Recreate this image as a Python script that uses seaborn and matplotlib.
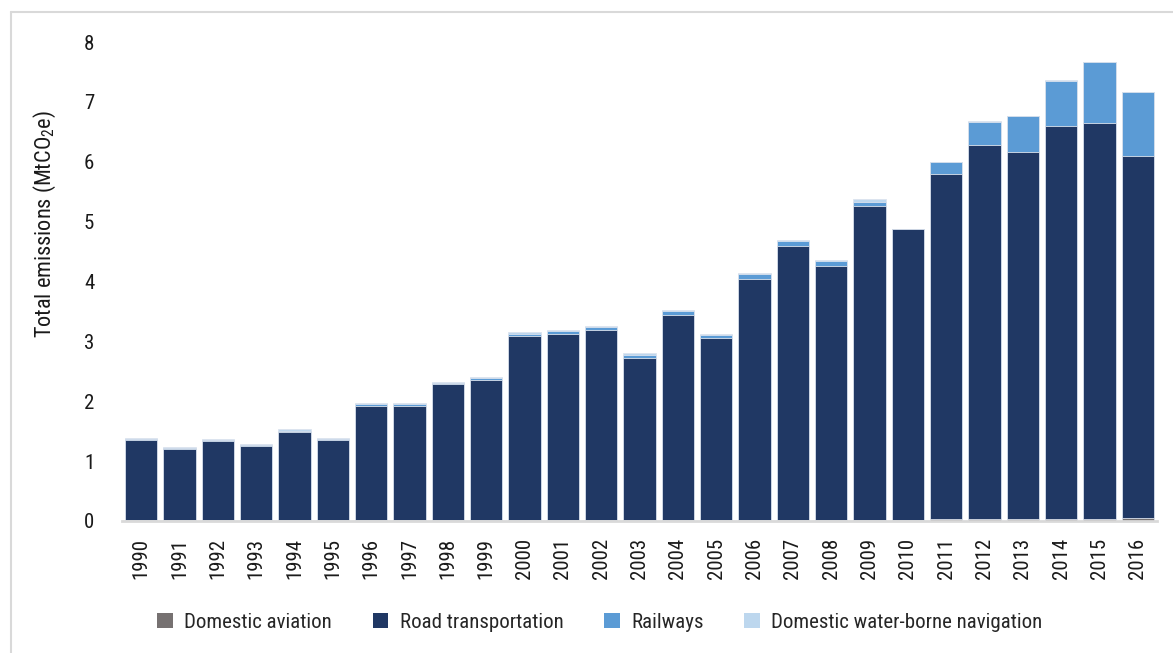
import numpy as np
import pandas as pd
import matplotlib
matplotlib.use('Agg')
import matplotlib.pyplot as plt
import seaborn as sns
from matplotlib.patches import Patch
from matplotlib.lines import Line2D

years = [str(y) for y in range(1990, 2017)]

aviation = [0.01, 0.01, 0.01, 0.01, 0.01, 0.01, 0.01, 0.01, 0.01, 0.01,
            0.01, 0.01, 0.01, 0.01, 0.01, 0.02, 0.02, 0.02, 0.02, 0.02,
            0.02, 0.03, 0.03, 0.03, 0.03, 0.03, 0.05]
road = [1.35, 1.20, 1.33, 1.25, 1.48, 1.35, 1.91, 1.91, 2.27, 2.35,
        3.08, 3.11, 3.18, 2.72, 3.43, 3.04, 4.02, 4.58, 4.24, 5.24,
        4.85, 5.77, 6.25, 6.14, 6.57, 6.62, 6.05]
railways = [0.01, 0.01, 0.01, 0.01, 0.02, 0.01, 0.03, 0.03, 0.025, 0.035,
            0.04, 0.05, 0.05, 0.05, 0.06, 0.05, 0.08, 0.08, 0.08, 0.07,
            0.0, 0.19, 0.39, 0.59, 0.75, 1.01, 1.06]
water = [0.02, 0.02, 0.015, 0.02, 0.02, 0.02, 0.015, 0.015, 0.015, 0.015,
         0.02, 0.02, 0.02, 0.02, 0.02, 0.02, 0.02, 0.02, 0.02, 0.04,
         0.0, 0.01, 0.01, 0.01, 0.01, 0.01, 0.01]

labels = ['Domestic aviation', 'Road transportation', 'Railways',
          'Domestic water-borne navigation']
colors = ['#767171', '#203864', '#5B9BD5', '#BDD7EE']

sns.set_style('white')
plt.rcParams['font.family'] = ['Liberation Sans Narrow', 'Roboto Condensed', 'DejaVu Sans']
plt.rcParams['mathtext.fontset'] = 'custom'

df = pd.DataFrame({'year': years, 'aviation': aviation, 'road': road,
                   'railways': railways, 'water': water})
layers = ['aviation', 'road', 'railways', 'water']
cum = df[layers].cumsum(axis=1)

fig = plt.figure(figsize=(11.73, 6.53), dpi=100)
ax = fig.add_axes([122 / 1173, 1 - 521 / 653, (1157 - 122) / 1173, (521 - 42) / 653])

# stacked bars: draw cumulative totals from the top layer down
for layer, col in reversed(list(zip(layers, colors))):
    sns.barplot(x=df['year'], y=cum[layer], color=col, saturation=1,
                width=0.85, edgecolor='#DCE3EE', linewidth=0.6,
                errorbar=None, ax=ax, order=years)

ax.set_ylim(0, 8)
ax.set_yticks(range(0, 9))
ax.set_xlabel('')
ax.set_ylabel(r'Total emissions (MtCO$_{\mathregular{2}}$e)', fontsize=16, color='#1a1a1a')
ax.yaxis.set_label_coords(-0.062, 0.62)
for s in ['top', 'right', 'left']:
    ax.spines[s].set_visible(False)
ax.spines['bottom'].set_color('#D9D9D9')
ax.spines['bottom'].set_linewidth(2)
ax.tick_params(axis='y', length=0, pad=20, labelsize=15, labelcolor='#1a1a1a')
ax.tick_params(axis='x', length=0, pad=12, labelsize=15, labelcolor='#1a1a1a', rotation=90)

handles = [Patch(facecolor=c, edgecolor='none') for c in colors]
fig.legend(handles, labels, loc='center', bbox_to_anchor=(600 / 1173, 1 - 622 / 653),
           ncol=4, frameon=False, fontsize=15, handlelength=0.75, handleheight=0.75,
           handletextpad=0.55, columnspacing=1.95)

# thin frame lines at the top and left of the image
fig.add_artist(Line2D([11 / 1173, 1], [1 - 12 / 653, 1 - 12 / 653], color='#D9D9D9', lw=1.5))
fig.add_artist(Line2D([11 / 1173, 11 / 1173], [0, 1 - 12 / 653], color='#D9D9D9', lw=1.5))

fig.savefig('out.png', dpi=100)
